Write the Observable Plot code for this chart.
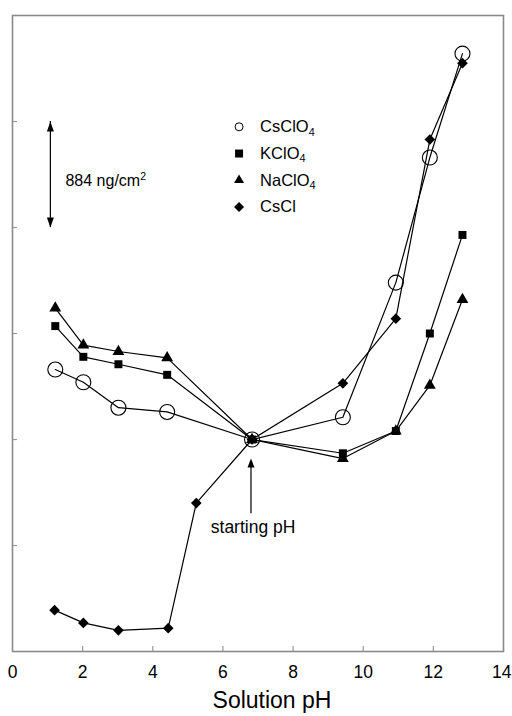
<!DOCTYPE html>
<html>
<head>
<meta charset="utf-8">
<script src="https://cdn.jsdelivr.net/npm/d3@7"></script>
<script src="https://cdn.jsdelivr.net/npm/@observablehq/plot@0.6"></script>
<style>
  html, body { margin: 0; padding: 0; background: #fff; }
  #chart { width: 512px; height: 716px; }
</style>
</head>
<body>
<div id="chart"></div>
<script>
// ---- data (relative mass change, 1 unit = 884 ng/cm²) ----
const seriesNames = ["CsClO4", "KClO4", "NaClO4", "CsCl"];
const pHPerchlorate = [1.22, 2.02, 3.02, 4.41, 6.83, 9.42, 10.93, 11.9, 12.83];
const CsClO4 = [2.66, 2.54, 2.30, 2.26, 2.00, 2.21, 3.48, 4.66, 5.64];
const KClO4  = [3.07, 2.78, 2.71, 2.61, 2.00, 1.87, 2.08, 3.00, 3.93];
const NaClO4 = [3.24, 2.89, 2.83, 2.77, 2.00, 1.82, 2.08, 2.51, 3.32];
const pHCsCl = [1.20, 2.02, 3.02, 4.44, 5.24, 6.83, 9.42, 10.93, 11.9, 12.83];
const CsCl   = [0.39, 0.27, 0.20, 0.22, 1.40, 2.00, 2.53, 3.14, 4.83, 5.55];
const xTicks = [0, 2, 4, 6, 8, 10, 12, 14];
const yTicks = [1, 2, 3, 4, 5];
const scaleBar = {pH: 1.08, from: 4, to: 5, label: "884 ng/cm2"};
const startArrow = {pH: 6.8, from: 1.30, to: 1.82, label: "starting pH"};

const toRows = (name, xs, ys) => xs.map((x, i) => ({series: name, pH: x, v: ys[i]}));
const rows = [
  ...toRows("CsClO4", pHPerchlorate, CsClO4),
  ...toRows("KClO4", pHPerchlorate, KClO4),
  ...toRows("NaClO4", pHPerchlorate, NaClO4),
  ...toRows("CsCl", pHCsCl, CsCl)
];

const symbolOf = {CsClO4: "circle", KClO4: "square", NaClO4: "triangle", CsCl: "diamond2"};
const rOf = {CsClO4: 7.5, KClO4: 4.5, NaClO4: 4.4, CsCl: 4.8};
const legendR = {CsClO4: 4, KClO4: 4.5, NaClO4: 3.7, CsCl: 4.5};

// arrow-head symbols with tip at the origin
const headUp = (w, l) => ({draw(c) { c.moveTo(0, 0); c.lineTo(-w / 2, l); c.lineTo(w / 2, l); c.closePath(); }});
const headDown = (w, l) => ({draw(c) { c.moveTo(0, 0); c.lineTo(-w / 2, -l); c.lineTo(w / 2, -l); c.closePath(); }});

const W = 512, H = 716, mL = 12, mR = 9, mT = 15, mB = 65;
const innerW = W - mL - mR, innerH = H - mT - mB;

const legendX = 6.46, legendTextX = 7.06, legendY0 = 4.95, legendStep = 0.252;

const marks = [];
// inner ticks
marks.push(Plot.tickX(xTicks.slice(1, -1), {x: d => d, stroke: "#9a9a9a", strokeWidth: 1.2, insetTop: innerH - 5}));
marks.push(Plot.tickY(yTicks, {y: d => d, stroke: "#9a9a9a", strokeWidth: 1.2, insetRight: innerW - 5}));
marks.push(Plot.frame({stroke: "#8a8a8a", strokeWidth: 1.6}));
// series lines
for (const name of seriesNames) {
  marks.push(Plot.line(rows.filter(d => d.series === name), {x: "pH", y: "v", stroke: "black", strokeWidth: 1.2}));
}
// markers
for (const name of seriesNames) {
  const data = rows.filter(d => d.series === name);
  if (name === "CsClO4") {
    marks.push(Plot.dot(data, {x: "pH", y: "v", symbol: "circle", r: rOf[name], stroke: "black", strokeWidth: 1.1, fill: "none"}));
  } else {
    marks.push(Plot.dot(data, {x: "pH", y: "v", symbol: symbolOf[name], r: rOf[name], fill: "black", stroke: "none"}));
  }
}
// legend
seriesNames.forEach((name, i) => {
  const y = legendY0 - i * legendStep;
  marks.push(Plot.dot([name], {x: () => legendX, y: () => y, symbol: symbolOf[name], r: legendR[name],
    fill: name === "CsClO4" ? "none" : "black", stroke: name === "CsClO4" ? "black" : "none", strokeWidth: 1}));
  marks.push(Plot.text([name], {x: () => legendTextX, y: () => y, text: d => d, textAnchor: "start", fontSize: 16.5, fill: "black"}));
});
// scale bar (double arrow)
marks.push(Plot.ruleX([scaleBar], {x: "pH", y1: "from", y2: "to", stroke: "black", strokeWidth: 1.2}));
marks.push(Plot.dot([scaleBar], {x: "pH", y: "to", symbol: headUp(7, 10), r: 5, fill: "black", stroke: "none"}));
marks.push(Plot.dot([scaleBar], {x: "pH", y: "from", symbol: headDown(7, 10), r: 5, fill: "black", stroke: "none"}));
marks.push(Plot.text([scaleBar], {x: d => d.pH + 0.43, y: d => (d.from + d.to) / 2 - 0.06, text: "label", textAnchor: "start", fontSize: 16, fill: "black"}));
// starting pH arrow
marks.push(Plot.ruleX([startArrow], {x: "pH", y1: "from", y2: d => d.to - 0.05, stroke: "black", strokeWidth: 1.2}));
marks.push(Plot.dot([startArrow], {x: "pH", y: "to", symbol: headUp(7, 9), r: 5, fill: "black", stroke: "none"}));
marks.push(Plot.text([startArrow], {x: d => d.pH + 0.06, y: d => d.from - 0.13, text: "label", textAnchor: "middle", fontSize: 17.5, fill: "black"}));
// x axis (last label kept inside the page)
marks.push(Plot.axisX(xTicks.slice(0, -1), {tickSize: 0, tickPadding: 14, fontSize: 17.5, label: null, tickFormat: d => String(d), color: "black"}));
marks.push(Plot.axisX(xTicks.slice(-1), {tickSize: 0, tickPadding: 14, fontSize: 17.5, label: null, tickFormat: d => String(d), color: "black", textAnchor: "end", dx: 8}));
marks.push(Plot.text(["Solution pH"], {frameAnchor: "bottom", dy: 56, dx: 14, text: d => d, fontSize: 23, fill: "black"}));

const plot = Plot.plot({
  width: W, height: H,
  marginLeft: mL, marginRight: mR, marginTop: mT, marginBottom: mB,
  style: {fontFamily: "'Liberation Sans', Arial, Helvetica, sans-serif", background: "white", color: "black"},
  x: {domain: [0, 14], axis: null},
  y: {domain: [0, 6], axis: null},
  marks
});

// subscripts / superscripts as real text
d3.select(plot).selectAll("text").each(function() {
  const t = this.textContent;
  const m = /^(.*ClO)(4)$/.exec(t);
  const s = /^(.*cm)(2)$/.exec(t);
  if (m || s) {
    const [_, base, sc] = m || s;
    const el = d3.select(this);
    el.text(null);
    el.append("tspan").text(base);
    el.append("tspan").attr("dy", m ? "0.32em" : "-0.55em").attr("font-size", "0.66em").text(sc);
  }
});

document.getElementById("chart").appendChild(plot);
</script>
</body>
</html>
